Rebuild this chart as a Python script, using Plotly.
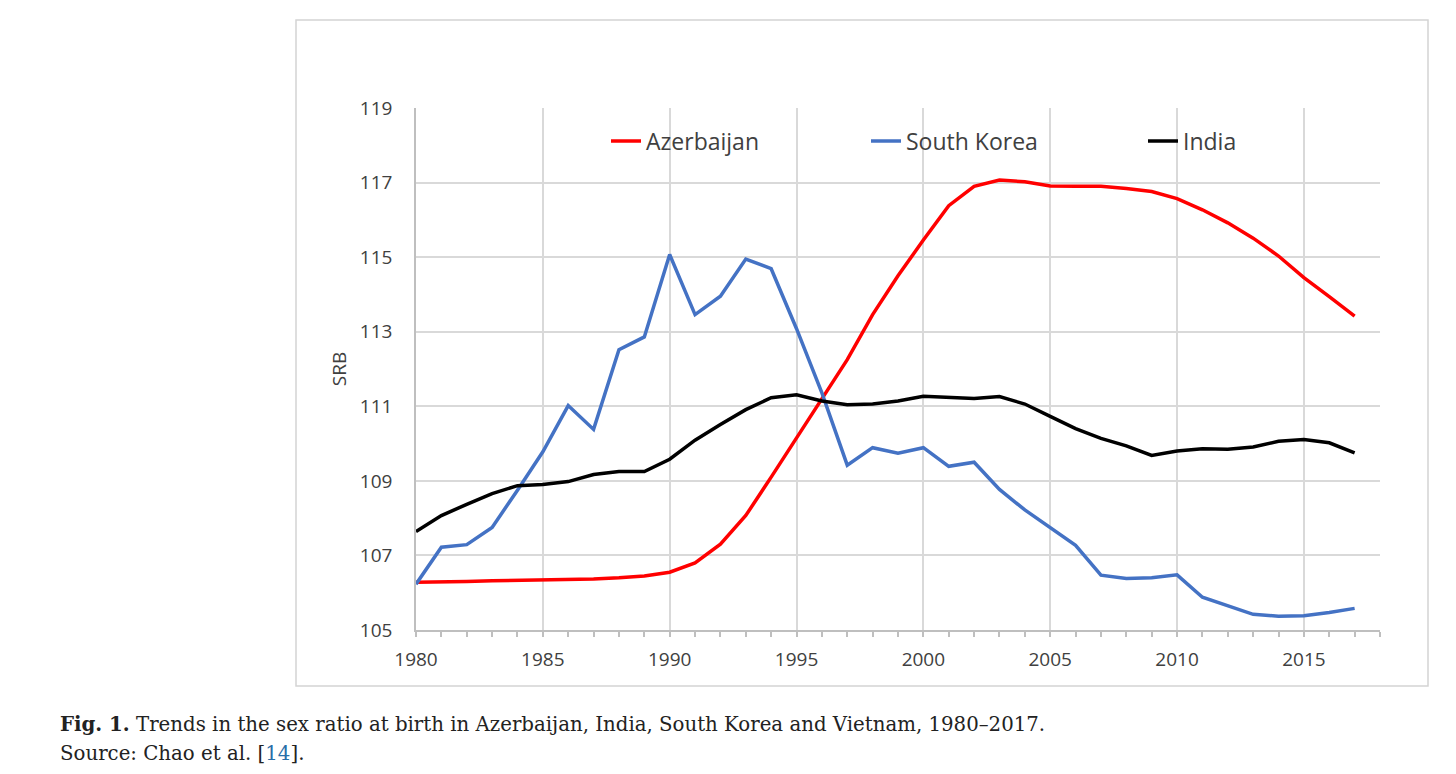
import plotly.graph_objects as go

years = list(range(1980, 2018))

azerbaijan = [106.28, 106.28, 106.30, 106.32, 106.33, 106.34, 106.35, 106.37, 106.40, 106.45,
              106.55, 106.80, 107.30, 108.07, 109.10, 110.16, 111.18, 112.25, 113.46, 114.50,
              115.46, 116.38, 116.90, 117.07, 117.02, 116.91, 116.90, 116.90, 116.84, 116.76,
              116.57, 116.27, 115.92, 115.51, 115.03, 114.45, 113.94, 113.42]

south_korea = [106.23, 107.22, 107.29, 107.75, 108.75, 109.78, 111.02, 110.38, 112.52, 112.86,
               115.07, 113.46, 113.95, 114.95, 114.69, 113.08, 111.36, 109.42, 109.89, 109.74,
               109.89, 109.39, 109.50, 108.77, 108.22, 107.75, 107.27, 106.47, 106.38, 106.40,
               106.48, 105.88, 105.66, 105.42, 105.37, 105.38, 105.47, 105.58]

india = [107.64, 108.07, 108.37, 108.66, 108.87, 108.90, 108.98, 109.17, 109.25, 109.25,
         109.58, 110.09, 110.51, 110.91, 111.23, 111.31, 111.14, 111.04, 111.06, 111.14,
         111.27, 111.23, 111.21, 111.26, 111.06, 110.73, 110.40, 110.14, 109.94, 109.68,
         109.80, 109.86, 109.85, 109.91, 110.06, 110.11, 110.02, 109.75]

y_ticks = [105, 107, 109, 111, 113, 115, 117, 119]

# page has an 8px body margin, so the figure sits at (8, 8) in the window
OFF = 8
W, H = 1456 - 2 * OFF, 774 - 2 * OFF
L, R, T, B = 416, 1380, 108, 630  # plot area in window pixels


def px(x):
    return (x - L) / (R - L)


def py(y):
    return (B - y) / (B - T)


font = "Open Sans, Noto Sans, sans-serif"
grey = "#404040"
serif = "DejaVu Serif, serif"

fig = go.Figure()
fig.add_trace(go.Scatter(x=years, y=azerbaijan, name="Azerbaijan", mode="lines",
                         line=dict(color="#ff0000", width=3.5), legend="legend"))
fig.add_trace(go.Scatter(x=years, y=south_korea, name="South Korea", mode="lines",
                         line=dict(color="#4472c4", width=3.5), legend="legend2"))
fig.add_trace(go.Scatter(x=years, y=india, name="India", mode="lines",
                         line=dict(color="#000000", width=3.5), legend="legend3"))

leg = dict(orientation="h", yanchor="middle", xanchor="left", y=py(141),
           bgcolor="rgba(0,0,0,0)", font=dict(family=font, size=23, color=grey))

fig.update_layout(
    width=W, height=H, showlegend=True,
    margin=dict(l=L - OFF, r=W + OFF - R, t=T - OFF, b=H + OFF - B),
    paper_bgcolor="white", plot_bgcolor="white",
    legend=dict(leg, x=px(606)),
    legend2=dict(leg, x=px(866)),
    legend3=dict(leg, x=px(1143)),
    xaxis=dict(range=[1980, 2018], tick0=1980, dtick=5,
               showline=True, linecolor="#bfbfbf", linewidth=1.5,
               showgrid=True, gridcolor="#d9d9d9", gridwidth=1.5,
               ticks="outside", ticklen=5, tickcolor="#bfbfbf", tickwidth=1.5,
               minor=dict(dtick=1, ticks="outside", ticklen=5, tickcolor="#bfbfbf",
                          tickwidth=1.5, showgrid=False),
               ticklabelstandoff=6,
               tickfont=dict(family=font, size=19, color=grey), zeroline=False),
    yaxis=dict(range=[105, 119], tickvals=y_ticks,
               showline=True, linecolor="#bfbfbf", linewidth=1.5,
               showgrid=True, gridcolor="#d9d9d9", gridwidth=1.5,
               ticks="", ticklabelstandoff=18,
               tickfont=dict(family=font, size=19, color=grey), zeroline=False,
               title=dict(text="SRB", standoff=8,
                          font=dict(family=font, size=19, color=grey))),
    shapes=[dict(type="rect", xref="paper", yref="paper",
                 x0=px(296), x1=px(1428), y0=py(686), y1=py(20),
                 line=dict(color="#d4d4d4", width=1.5), layer="below")],
    annotations=[
        dict(xref="paper", yref="paper", x=px(58), y=py(724), xanchor="left", yanchor="middle",
             showarrow=False, align="left",
             text="<b>Fig. 1.</b> Trends in the sex ratio at birth in Azerbaijan, India, "
                  "South Korea and Vietnam, 1980–2017.",
             font=dict(family=serif, size=19.75, color="#222222")),
        dict(xref="paper", yref="paper", x=px(58), y=py(753), xanchor="left", yanchor="middle",
             showarrow=False, align="left",
             text="Source: Chao et al. [<span style='color:#2a6ea8'>14</span>].",
             font=dict(family=serif, size=19.75, color="#222222")),
    ],
)

fig.write_html("out.html")
